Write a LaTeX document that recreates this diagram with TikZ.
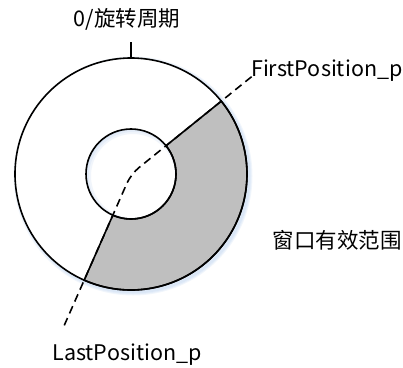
\documentclass[tikz,border=0pt]{standalone}
\usepackage{fontspec}
\setmainfont{Noto Sans CJK SC}
\usetikzlibrary{calc}
\definecolor{glowc}{RGB}{150,185,230}
\begin{document}
\begin{tikzpicture}[x=1pt,y=1pt,
  lbl/.style={inner sep=0pt, font=\fontsize{21.5}{24}\selectfont},
  cjk/.style={inner sep=0pt, font=\fontsize{21.5}{24}\selectfont},
  ring/.style={line width=1.6pt},
  glow/.style={draw=glowc, draw opacity=0.13},
  dashline/.style={line width=1.6pt, dash pattern=on 8pt off 5pt, rounded corners=10pt}]
\useasboundingbox (0,0) rectangle (403,367);
\coordinate (c) at (131,193);
\coordinate (cs) at (133,191);
\def\Ro{116}\def\Ri{45}
% outer glow
\foreach \w in {7,5,3} {
  \draw[glow, line width=\w pt] (cs) circle (\Ro);
}
\fill[white] (c) circle (\Ro);
% inner glow inside hole
\begin{scope}
  \clip (c) circle (\Ri);
  \foreach \w in {14,10,6} {
    \draw[glow, line width=\w pt] (cs) circle (\Ri+4);
  }
\end{scope}
% gray sector
\filldraw[fill=black!25, line width=1.6pt]
  ($(c)+(-113.8:\Ro)$) arc[start angle=-113.8, end angle=38.9, radius=\Ro]
  -- ($(c)+(38.9:\Ri)$) arc[start angle=38.9, end angle=-113.8, radius=\Ri] -- cycle;
% circles
\draw[ring] (c) circle (\Ro);
\draw[ring] (c) circle (\Ri);
% tick at top
\coordinate (top) at ($(c)+(0,\Ro)$);
\coordinate (tickend) at ($(top)+(0,16)$);
\draw[line width=1.6pt] (top) -- (tickend);
% labels
\node[lbl, anchor=base] (zero) at (127,340) {0/旋转周期};
\node[lbl, anchor=base west] (first) at (251,290) {FirstPosition\_p};
\node[lbl, anchor=base] (last) at (127,7) {LastPosition\_p};
\node[cjk] (win) at (337,127) {窗口有效范围};
% dashed line
\coordinate (fp) at ($(c)+(38.9:155)$);
\coordinate (lp) at ($(c)+(246.2:168)$);
\draw[dashline] (fp) -- (c) -- (lp);
\end{tikzpicture}
\end{document}
